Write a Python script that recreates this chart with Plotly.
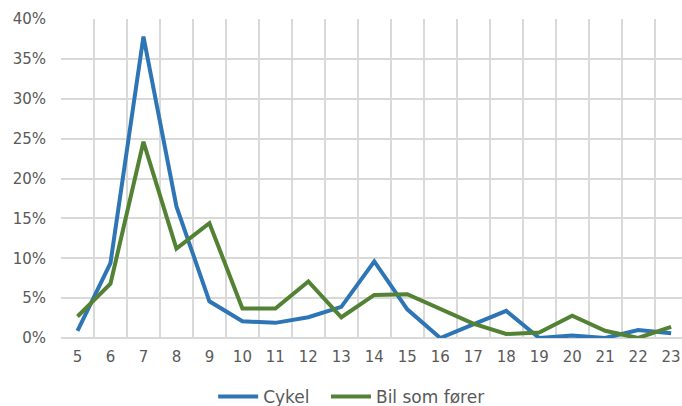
import plotly.graph_objects as go

hours = list(range(5, 24))
tick_labels = [str(h) for h in hours]
cykel = [0.9, 9.4, 37.8, 16.5, 4.6, 2.1, 1.9, 2.6, 3.9, 9.6, 3.6, 0.0, 1.7, 3.4, 0.0, 0.3, 0.0, 1.0, 0.6]
bil = [2.7, 6.8, 24.6, 11.2, 14.4, 3.7, 3.7, 7.1, 2.6, 5.4, 5.5, 3.6, 1.8, 0.5, 0.7, 2.8, 0.9, 0.0, 1.4]

fig = go.Figure()
fig.add_trace(go.Scatter(x=hours, y=[v / 100 for v in cykel], mode="lines", name="Cykel",
                         line=dict(color="#2E75B6", width=4), legend="legend"))
fig.add_trace(go.Scatter(x=hours, y=[v / 100 for v in bil], mode="lines", name="Bil som fører",
                         line=dict(color="#548235", width=4), legend="legend2"))

grid = "#D9D9D9"
leg_common = dict(orientation="h", xanchor="left", xref="paper",
                  y=-0.185, yanchor="middle", font=dict(size=17, color="#595959"),
                  itemwidth=40, bgcolor="rgba(0,0,0,0)")
fig.update_layout(
    width=682, height=406,
    margin=dict(l=61, r=0, t=19, b=68, autoexpand=False),
    paper_bgcolor="white", plot_bgcolor="white",
    font=dict(family="DejaVu Sans", color="#595959", size=15),
    showlegend=True,
    legend=dict(x=0.245, **leg_common),
    legend2=dict(x=0.4267, **leg_common),
    xaxis=dict(range=[4.5, 23.33], tickvals=hours, ticktext=tick_labels,
               showgrid=False, zeroline=False, showline=False, automargin=False,
               ticks="", ticklabelstandoff=8,
               minor=dict(tick0=4.5, dtick=1, showgrid=True, gridcolor=grid, gridwidth=1.5, ticks="")),
    yaxis=dict(range=[0, 0.40], dtick=0.05, tickformat=".0%", showgrid=True, gridcolor=grid,
               gridwidth=1.5, zeroline=True, zerolinecolor=grid, zerolinewidth=1.5, automargin=False,
               showline=False, ticks="", ticklabelstandoff=14),
)

fig.write_html("out.html", config={"displayModeBar": False},
               post_script="document.body.style.margin='0';document.body.style.overflow='hidden';")
